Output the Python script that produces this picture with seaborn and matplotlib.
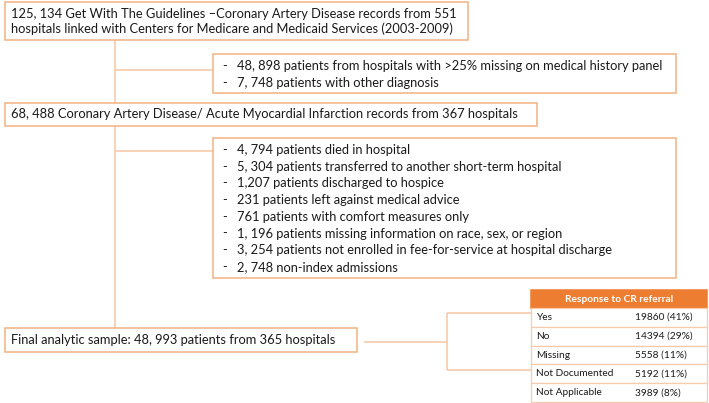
import matplotlib
matplotlib.use("Agg")
import matplotlib.pyplot as plt
import seaborn as sns
from matplotlib.patches import Rectangle

# Flowchart texts
top_lines = [
    "125, 134 Get With The Guidelines \u2013Coronary Artery Disease records from 551",
    "hospitals linked with Centers for Medicare and Medicaid Services (2003-2009)",
]
excl1 = [
    "48, 898 patients from hospitals with >25% missing on medical history panel",
    "7, 748 patients with other diagnosis",
]
mid_text = "68, 488 Coronary Artery Disease/ Acute Myocardial Infarction records from 367 hospitals"
excl2 = [
    "4, 794 patients died in hospital",
    "5, 304 patients transferred to another short-term hospital",
    "1,207 patients discharged to hospice",
    "231 patients left against medical advice",
    "761 patients with comfort measures only",
    "1, 196 patients missing information on race, sex, or region",
    "3, 254 patients not enrolled in fee-for-service at hospital discharge",
    "2, 748 non-index admissions",
]
final_text = "Final analytic sample: 48, 993 patients from 365 hospitals"

# CR referral table
table_title = "Response to CR referral"
responses = ["Yes", "No", "Missing", "Not Documented", "Not Applicable"]
counts = [19860, 14394, 5558, 5192, 3989]
percents = [41, 29, 11, 11, 8]

sns.set_theme(style="white")
plt.rcParams['font.family'] = ['Lato', 'DejaVu Sans']

edge = "#F4B183"
line_c = "#F6C6A4"
header_c = "#ED7D31"
txt_c = "#1a1a1a"
fs = 9.3
tfs = 7.3

fig = plt.figure(figsize=(7.09, 4.03), dpi=100)
ax = fig.add_axes([0, 0, 1, 1])
ax.set_xlim(0, 709)
ax.set_ylim(403, 0)
ax.axis("off")


def box(x0, y0, x1, y1, ec=edge, fc="white", lw=1.1):
    ax.add_patch(Rectangle((x0, y0), x1 - x0, y1 - y0, ec=ec, fc=fc, lw=lw, zorder=2))


def line(xs, ys):
    ax.plot(xs, ys, color=line_c, lw=1.1, zorder=1, solid_capstyle="butt")


# connectors
line([115, 115], [40, 328])
line([115, 213], [70, 70])
line([115, 213], [151, 151])
line([364, 447], [342, 342])
line([447, 447], [313, 370])
line([447, 531], [313, 313])
line([447, 531], [370, 370])

# top box
box(5, 2, 468, 40)
for i, t in enumerate(top_lines):
    ax.text(11, 13.5 + i * 15.5, t, fontsize=fs, color=txt_c, va="center", zorder=3)

# exclusion box 1
box(213, 54, 676, 93)
for i, t in enumerate(excl1):
    ax.text(222, 66 + i * 17, "-", fontsize=fs, color=txt_c, va="center", zorder=3)
    ax.text(237, 66 + i * 17, t, fontsize=fs, color=txt_c, va="center", zorder=3)

# middle box
box(5, 103, 537, 126)
ax.text(11, 114.5, mid_text, fontsize=fs, color=txt_c, va="center", zorder=3)

# exclusion box 2
box(213, 138, 676, 278)
for i, t in enumerate(excl2):
    y = 150 + i * 16.7
    ax.text(222, y, "-", fontsize=fs, color=txt_c, va="center", zorder=3)
    ax.text(237, y, t, fontsize=fs, color=txt_c, va="center", zorder=3)

# final box
box(5, 328, 357, 352)
ax.text(11, 340.5, final_text, fontsize=fs, color=txt_c, va="center", zorder=3)

# table
tx0, tx1 = 531, 707
box(tx0, 290, tx1, 308, ec=header_c, fc=header_c)
ax.text((tx0 + tx1) / 2, 299, table_title, fontsize=7.3, color="white",
        fontweight="bold", ha="center", va="center", zorder=3)
row_h = 18.8
for i, (r, c, p) in enumerate(zip(responses, counts, percents)):
    y0 = 308 + i * row_h
    box(tx0, y0, tx1, y0 + row_h, ec="#F8CBAD", lw=0.9)
    ax.text(tx0 + 5, y0 + row_h / 2, r, fontsize=tfs, color=txt_c, va="center", zorder=3)
    ax.text(635, y0 + row_h / 2, f"{c} ({p}%)", fontsize=tfs, color=txt_c, va="center", zorder=3)

fig.savefig("out.png", dpi=100)
